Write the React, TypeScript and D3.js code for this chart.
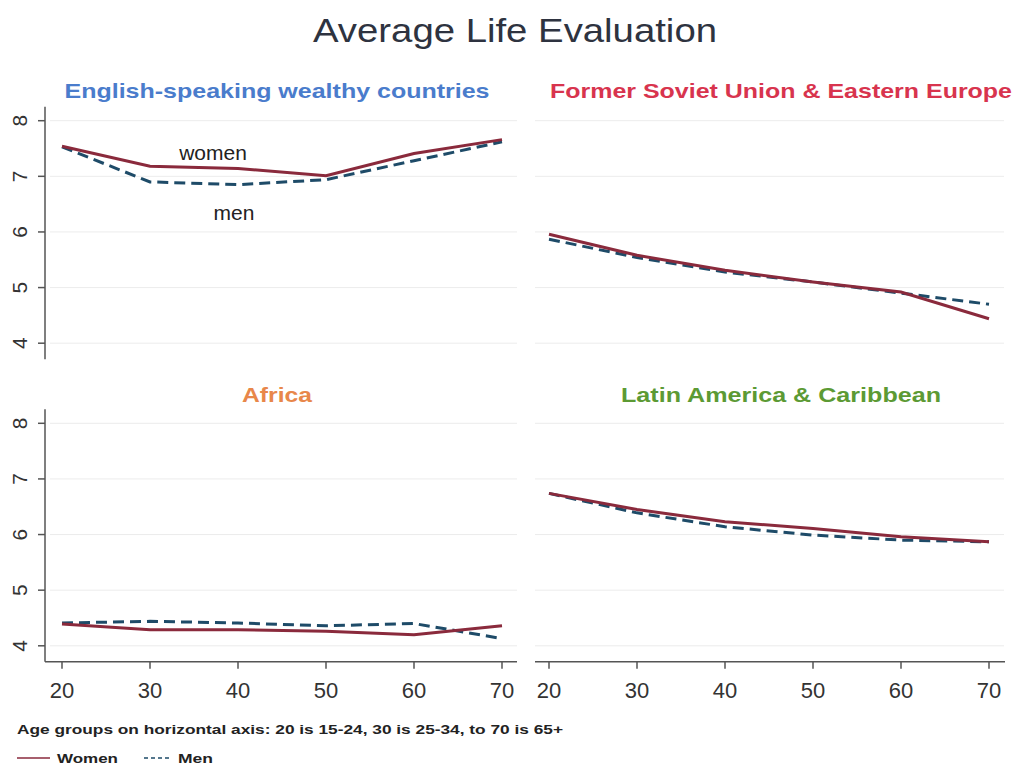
import React from "react";
import * as d3 from "d3";

// age groups on the x axis
const ages = [20, 30, 40, 50, 60, 70];
const yTicks = [4, 5, 6, 7, 8];

const englishWomen = [7.54, 7.18, 7.14, 7.01, 7.41, 7.66];
const englishMen = [7.53, 6.9, 6.85, 6.94, 7.28, 7.62];
const sovietWomen = [5.96, 5.58, 5.31, 5.1, 4.92, 4.44];
const sovietMen = [5.87, 5.54, 5.28, 5.1, 4.9, 4.7];
const africaWomen = [4.39, 4.29, 4.29, 4.26, 4.2, 4.36];
const africaMen = [4.41, 4.44, 4.41, 4.36, 4.4, 4.13];
const latinWomen = [6.74, 6.45, 6.23, 6.11, 5.96, 5.87];
const latinMen = [6.74, 6.39, 6.14, 5.99, 5.9, 5.87];

const panelTitles = [
  "English-speaking wealthy countries",
  "Former Soviet Union & Eastern Europe",
  "Africa",
  "Latin America & Caribbean",
];
const titleColors = ["#4a7ccc", "#d8344e", "#e8874a", "#5c9a34"];
// widths the titles take in the picture
const titleWidths = [425, 462, 70, 320];

const WOMEN = "#8a2a3c";
const MEN = "#1e4b68";
const AXIS = "#555";
const GRID = "#ececec";
const FONT = "'Liberation Sans', Arial, sans-serif";

type Panel = {
  title: string;
  color: string;
  width: number;
  women: number[];
  men: number[];
  col: number;
  row: number;
};

const panels: Panel[] = panelTitles.map((t, i) => ({
  title: t,
  color: titleColors[i],
  width: titleWidths[i],
  women: [englishWomen, sovietWomen, africaWomen, latinWomen][i],
  men: [englishMen, sovietMen, africaMen, latinMen][i],
  col: i % 2,
  row: Math.floor(i / 2),
}));

function PanelChart({ p }: { p: Panel }) {
  const x0 = p.col === 0 ? 62 : 549;
  const x = d3.scaleLinear().domain([20, 70]).range([x0, x0 + 440]);
  const y8 = p.row === 0 ? 120.7 : 423.3;
  const y = d3.scaleLinear().domain([4, 8]).range([y8 + 222.5, y8]);
  const gridX1 = p.col === 0 ? 50 : 535;
  const gridX2 = p.col === 0 ? 517 : 1004;
  const line = d3
    .line<number>()
    .x((_, i) => x(ages[i]))
    .y((d) => y(d));
  const axisY = y(4) + 16;
  const titleX = p.col === 0 ? 277 : 781;
  const titleY = p.row === 0 ? 98 : 402;

  return (
    <g>
      <text
        x={titleX}
        y={titleY}
        textAnchor="middle"
        fontFamily={FONT}
        fontWeight="bold"
        fontSize={21}
        fill={p.color}
        textLength={p.width}
        lengthAdjust="spacingAndGlyphs"
      >
        {p.title}
      </text>
      {yTicks.map((t) => (
        <line
          key={t}
          x1={gridX1}
          x2={gridX2}
          y1={y(t)}
          y2={y(t)}
          stroke={GRID}
          strokeWidth={1}
        />
      ))}
      {p.col === 0 && (
        <g>
          <line x1={45} x2={45} y1={y8 - 14} y2={axisY} stroke={AXIS} strokeWidth={1.5} />
          {yTicks.map((t) => (
            <g key={t}>
              <line x1={38} x2={45} y1={y(t)} y2={y(t)} stroke={AXIS} strokeWidth={1.5} />
              <text
                transform={`translate(27,${y(t)}) rotate(-90)`}
                textAnchor="middle"
                fontFamily={FONT}
                fontSize={21}
                fill="#333"
              >
                {t}
              </text>
            </g>
          ))}
        </g>
      )}
      {p.row === 1 && (
        <g>
          <line
            x1={p.col === 0 ? 45 : 535}
            x2={p.col === 0 ? 517 : 1005}
            y1={axisY}
            y2={axisY}
            stroke={AXIS}
            strokeWidth={1.5}
          />
          {ages.map((a) => (
            <g key={a}>
              <line x1={x(a)} x2={x(a)} y1={axisY} y2={axisY + 7} stroke={AXIS} strokeWidth={1.5} />
              <text
                x={x(a)}
                y={axisY + 36}
                textAnchor="middle"
                fontFamily={FONT}
                fontSize={22}
                fill="#333"
              >
                {a}
              </text>
            </g>
          ))}
        </g>
      )}
      <path
        d={line(p.men) || ""}
        fill="none"
        stroke={MEN}
        strokeWidth={3}
        strokeDasharray="11 6"
      />
      <path d={line(p.women) || ""} fill="none" stroke={WOMEN} strokeWidth={3} />
    </g>
  );
}

export default function App() {
  return (
    <svg width={1016} height={765} style={{ position: "absolute", left: 0, top: 0, background: "#fff" }}>
      <rect width={1016} height={765} fill="#fff" />
      <text
        x={515}
        y={42}
        textAnchor="middle"
        fontFamily={FONT}
        fontSize={33}
        fill="#2e3340"
        textLength={404}
        lengthAdjust="spacingAndGlyphs"
      >
        Average Life Evaluation
      </text>
      {panels.map((p) => (
        <PanelChart key={p.title} p={p} />
      ))}
      <text x={213} y={160} textAnchor="middle" fontFamily={FONT} fontSize={21} fill="#222">
        women
      </text>
      <text x={234} y={220} textAnchor="middle" fontFamily={FONT} fontSize={21} fill="#222">
        men
      </text>
      <text
        x={17}
        y={734}
        fontFamily={FONT}
        fontWeight="bold"
        fontSize={13.5}
        fill="#222"
        textLength={546}
        lengthAdjust="spacingAndGlyphs"
      >
        Age groups on horizontal axis: 20 is 15-24, 30 is 25-34, to 70 is 65+
      </text>
      <line x1={17} x2={50} y1={758} y2={758} stroke={WOMEN} strokeWidth={1.5} />
      <text
        x={57}
        y={763}
        fontFamily={FONT}
        fontWeight="bold"
        fontSize={13.5}
        fill="#222"
        textLength={61}
        lengthAdjust="spacingAndGlyphs"
      >
        Women
      </text>
      <line x1={144} x2={172} y1={758} y2={758} stroke={MEN} strokeWidth={1.5} strokeDasharray="4 3" />
      <text
        x={178}
        y={763}
        fontFamily={FONT}
        fontWeight="bold"
        fontSize={13.5}
        fill="#222"
        textLength={35}
        lengthAdjust="spacingAndGlyphs"
      >
        Men
      </text>
    </svg>
  );
}
